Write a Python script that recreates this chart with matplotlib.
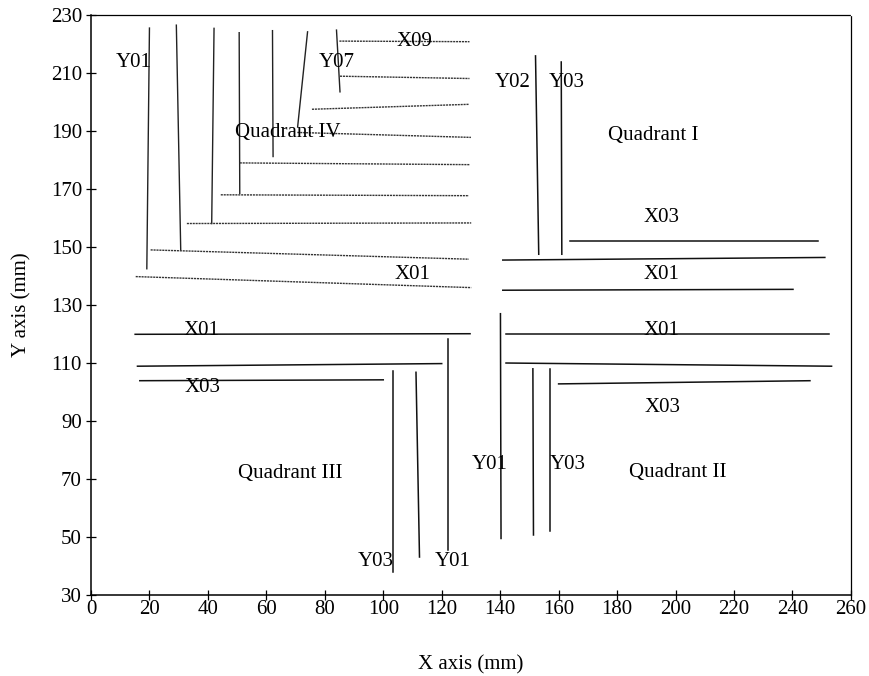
import matplotlib.pyplot as plt

# -- segment data, (x0, y0, x1, y1) in mm
# Quadrant IV (top left)
q4_vert = [(20.0, 225.5, 19.1, 142.5),
           (29.2, 226.5, 30.7, 149.0),
           (42.1, 225.4, 41.3, 158.1),
           (50.7, 223.9, 50.9, 168.5),
           (62.1, 224.6, 62.3, 181.2),
           (74.1, 224.2, 70.7, 191.4),
           (84.0, 224.8, 85.2, 203.5)]
q4_horz = [(85.0, 221.0, 129.5, 220.8),
           (85.2, 208.9, 129.5, 208.1),
           (75.6, 197.5, 129.3, 199.2),
           (70.6, 189.5, 130.0, 187.8),
           (50.9, 179.0, 129.7, 178.4),
           (44.4, 168.0, 129.3, 167.7),
           (32.8, 158.1, 130.1, 158.3),
           (20.4, 149.0, 129.3, 145.8),
           (15.3, 139.8, 130.1, 136.0)]
# Quadrant I (top right)
q1_segs = [(152.1, 215.9, 153.2, 147.5),
           (160.9, 213.8, 161.1, 147.5),
           (164.0, 152.1, 248.8, 152.1),
           (140.9, 145.5, 251.1, 146.4),
           (140.9, 135.1, 240.2, 135.4)]
# Quadrant III (bottom left)
q3_segs = [(15.1, 119.9, 129.7, 120.1),
           (15.9, 108.9, 120.0, 109.8),
           (16.7, 103.9, 100.0, 104.2),
           (103.5, 107.4, 103.5, 38.0),
           (111.2, 106.8, 112.4, 43.1),
           (122.3, 118.3, 122.3, 45.5)]
# Quadrant II (bottom right)
q2_segs = [(140.1, 127.0, 140.3, 49.5),
           (151.2, 108.0, 151.4, 50.7),
           (157.1, 108.0, 157.1, 52.0),
           (142.0, 119.9, 252.5, 119.9),
           (142.0, 110.0, 253.4, 108.9),
           (160.0, 102.8, 246.0, 103.9)]

labels = [("Y01", 14.7, 213.7), ("Y07", 84.0, 213.7), ("X09", 110.7, 220.8),
          ("Quadrant IV", 67.3, 189.6), ("X01", 110.0, 140.6),
          ("Y02", 144.3, 206.6), ("Y03", 162.8, 206.6), ("Quadrant I", 192.3, 188.5),
          ("X03", 195.2, 160.2), ("X01", 195.2, 140.6),
          ("X01", 37.9, 121.2), ("X03", 38.1, 101.4), ("Quadrant III", 68.1, 72.0),
          ("Y03", 97.5, 41.7), ("Y01", 123.8, 41.7),
          ("X01", 195.2, 121.2), ("X03", 195.5, 94.8), ("Y01", 136.3, 75.1),
          ("Y03", 163.2, 75.1), ("Quadrant II", 200.9, 72.2)]

xticks = list(range(0, 261, 20))
yticks = list(range(30, 231, 20))

plt.rcParams['font.family'] = ['Liberation Serif', 'DejaVu Serif']

fig = plt.figure(figsize=(8.7, 6.76), dpi=100)
ax = fig.add_axes([0.1046, 0.1198, 0.8734, 0.8580])

# QIV lines are lighter / dotted in the scan
for x0, y0, x1, y1 in q4_vert:
    ax.plot([x0, x1], [y0, y1], color='#222222', lw=1.0)
for x0, y0, x1, y1 in q4_horz:
    ax.plot([x0, x1], [y0, y1], color='#333333', lw=1.0, ls=(0, (1.5, 0.6)))
for segs in (q1_segs, q3_segs, q2_segs):
    for x0, y0, x1, y1 in segs:
        ax.plot([x0, x1], [y0, y1], color='#111111', lw=1.1)

for txt, x, y in labels:
    ax.text(x, y, txt, ha='center', va='center', fontsize=15)

ax.set_xlim(0, 260)
ax.set_ylim(30, 230)
ax.set_xticks(xticks)
ax.set_yticks(yticks)
ax.tick_params(direction='inout', length=7, width=0.9, labelsize=15)
ax.tick_params(axis='x', pad=0)
ax.tick_params(axis='y', pad=3)
ax.set_xlabel('X axis (mm)', fontsize=15, labelpad=26)
ax.set_ylabel('Y axis (mm)', fontsize=15, labelpad=14)

for side in ('top', 'right'):
    ax.spines[side].set_linestyle((0, (1, 1)))
    ax.spines[side].set_linewidth(0.9)
ax.spines['left'].set_linewidth(1.1)
ax.spines['bottom'].set_linewidth(1.1)

plt.savefig('out.png', dpi=100)
